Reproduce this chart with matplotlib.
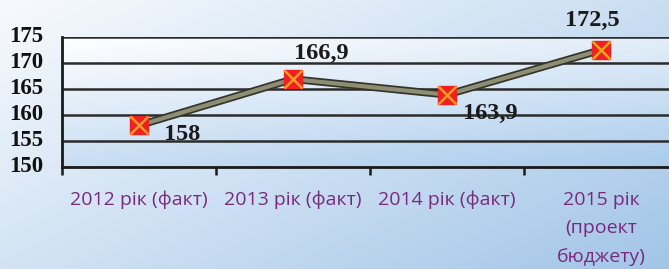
import numpy as np
import matplotlib
matplotlib.use('Agg')
import matplotlib.pyplot as plt
from matplotlib.colors import LinearSegmentedColormap

categories = ['2012 рік (факт)', '2013 рік (факт)', '2014 рік (факт)', '2015 рік\n(проект\nбюджету)']
values = [158, 166.9, 163.9, 172.5]
value_labels = ['158', '166,9', '163,9', '172,5']
label_offsets = [(43, -9), (28, 26), (43, -19), (-9, 30)]  # pixels (dx, dy)
yticks = [150, 155, 160, 165, 170, 175]

W, H = 669, 269
fig = plt.figure(figsize=(W / 100, H / 100), dpi=100)

# figure background: diagonal gradient white -> light blue
bg_cmap = LinearSegmentedColormap.from_list('bg', ['#f7fafd', '#cfe1f3', '#a2c5e8'])
gx, gy = np.meshgrid(np.linspace(0, 1, 200), np.linspace(0, 1, 100))
grad = 0.55 * gx + 0.45 * gy
bg_ax = fig.add_axes([0, 0, 1, 1], zorder=-10)
bg_ax.imshow(grad, cmap=bg_cmap, aspect='auto', extent=[0, 1, 0, 1], origin='upper')
bg_ax.axis('off')

# plot area: 62..678 px wide, 37..167 px tall
left, right, top, bottom = 62, 678, 37, 167
ax = fig.add_axes([left / W, 1 - bottom / H, (right - left) / W, (bottom - top) / H])
ax.set_facecolor('none')

x = np.arange(len(values))
ax.set_xlim(-0.5, len(values) - 0.5)
ax.set_ylim(150, 175)

pa_cmap = LinearSegmentedColormap.from_list('pa', ['#ffffff', '#d6e6f6', '#a9cbec'])
pgx, pgy = np.meshgrid(np.linspace(0, 1, 200), np.linspace(0, 1, 100))
ax.imshow(0.35 * pgx + 0.65 * pgy, cmap=pa_cmap, aspect='auto',
          extent=[-0.5, len(values) - 0.5, 150, 175], origin='upper', zorder=0)

for yv in yticks[1:]:
    ax.axhline(yv, color='#2b2b2b', lw=1.8, zorder=1)

ax.plot(x, values, color='#34342a', lw=5.5, solid_capstyle='round', zorder=3)
ax.plot(x, values, color='#8e8e74', lw=3, solid_capstyle='round', zorder=3)
ax.plot(x, values, ls='none', marker='s', ms=13.5, mfc='#ee2020', mec='#ee2020', zorder=4)
ax.plot(x, values, ls='none', marker='x', ms=13.5, mec='#f5a020', mew=1.8, zorder=5)

for xi, v, lab, (dx, dy) in zip(x, values, value_labels, label_offsets):
    ax.annotate(lab, (xi, v), xytext=(dx * 0.72, dy * 0.72), textcoords='offset points',
                ha='center', va='center', fontsize=17.5, fontweight='bold',
                family='Liberation Serif', color='#1a1a1a', zorder=6)

# y tick labels drawn as bold serif text
ax.set_yticks(yticks)
ax.set_yticklabels([])
ax.tick_params(axis='y', length=0)
for t in yticks:
    ax.text(-0.031, t, str(t), transform=ax.get_yaxis_transform(), ha='right', va='center',
            fontsize=16.5, fontweight='bold', family='Liberation Serif', color='#111111',
            clip_on=False)

ax.set_xticks(np.arange(len(values) + 1) - 0.5, minor=True)
ax.set_xticks(x)
ax.set_xticklabels(categories, linespacing=1.75, va='top',
                   fontdict={'family': 'Open Sans', 'size': 14, 'color': '#7a2a7e'})
ax.tick_params(axis='x', which='major', length=0, pad=17)
ax.tick_params(axis='x', which='minor', length=6, width=1.8, color='#1a1a1a', direction='out')

for s in ['top', 'right']:
    ax.spines[s].set_visible(False)
ax.spines['left'].set_linewidth(2)
ax.spines['bottom'].set_linewidth(2)
ax.spines['left'].set_color('#1a1a1a')
ax.spines['bottom'].set_color('#1a1a1a')
ax.spines['left'].set_zorder(2)

fig.savefig('out.png', dpi=100)
